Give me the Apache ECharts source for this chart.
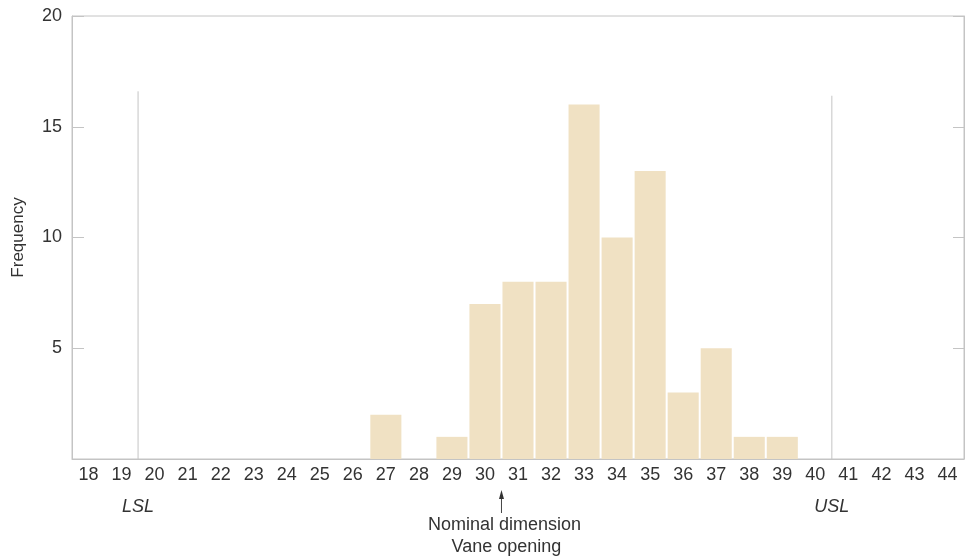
<!DOCTYPE html>
<html><head><meta charset="utf-8">
<script src="https://cdn.jsdelivr.net/npm/echarts@6/dist/echarts.min.js"></script>
<style>html,body{margin:0;padding:0;background:#fff}#c{width:967px;height:559px}</style>
</head><body><div id="c"></div>
<script>
const categories = ['18','19','20','21','22','23','24','25','26','27','28','29','30','31','32','33','34','35','36','37','38','39','40','41','42','43','44'];
const frequency  = [0,0,0,0,0,0,0,0,0,2,0,1,7,8,8,16,10,13,3,5,1,1,0,0,0,0,0];
const yTicks = [0,5,10,15,20];
const lslX = 19.5, lslTop = 16.6;
const uslX = 40.5, uslTop = 16.4;
const nominalX = 30.5;

const FONT = '"Liberation Sans", Arial, sans-serif';
const TXT = '#333';
const LINE = '#c4c4c4';

const chart = echarts.init(document.getElementById('c'), null, {renderer:'canvas'});
const option = {
  animation:false,
  grid:{left:72,right:3,top:16,bottom:100,show:true,borderColor:LINE,borderWidth:1},
  xAxis:[{
    type:'category',data:categories,
    axisLine:{show:true,lineStyle:{color:LINE}},
    axisTick:{show:false},
    axisLabel:{color:TXT,fontFamily:FONT,fontSize:18,margin:7,interval:0}
  },{
    type:'value',min:17.5,max:44.5,show:false
  }],
  yAxis:[{
    type:'value',min:0,max:20,interval:5,
    name:'Frequency',nameLocation:'middle',nameGap:45,
    nameTextStyle:{color:TXT,fontFamily:FONT,fontSize:17},
    axisLine:{show:true,lineStyle:{color:LINE}},
    axisTick:{show:true,inside:true,length:12,lineStyle:{color:LINE}},
    axisLabel:{color:TXT,fontFamily:FONT,fontSize:18,margin:10,formatter:v=>v===0?'':String(v)},
    splitLine:{show:false}
  },{
    type:'value',min:0,max:20,interval:5,position:'right',
    axisLine:{show:true,lineStyle:{color:LINE}},
    axisTick:{show:true,inside:true,length:11,lineStyle:{color:LINE}},
    axisLabel:{show:false},splitLine:{show:false}
  }],
  series:[{
    type:'bar',data:frequency,barCategoryGap:'6%',
    itemStyle:{color:'#F0E1C3'}
  },{
    type:'line',xAxisIndex:1,yAxisIndex:0,symbol:'none',
    data:[[lslX,0],[lslX,lslTop]],lineStyle:{color:LINE,width:1}
  },{
    type:'line',xAxisIndex:1,yAxisIndex:0,symbol:'none',
    data:[[uslX,0],[uslX,uslTop]],lineStyle:{color:LINE,width:1}
  }]
};
chart.setOption(option);

const lslPx = chart.convertToPixel({xAxisIndex:1},lslX);
const uslPx = chart.convertToPixel({xAxisIndex:1},uslX);
const nomPx = chart.convertToPixel({xAxisIndex:1},nominalX);
const yBase = chart.convertToPixel({yAxisIndex:0},0);
const tstyle = (t,x,y,extra)=>({type:'text',x:x,y:y,style:Object.assign({text:t,fill:TXT,font:'18px '+FONT,textAlign:'center',textVerticalAlign:'middle'},extra||{})});
chart.setOption({graphic:[
  tstyle('LSL',lslPx,yBase+48,{font:'italic 18px '+FONT}),
  tstyle('USL',uslPx,yBase+48,{font:'italic 18px '+FONT}),
  {type:'line',shape:{x1:nomPx,y1:yBase+54,x2:nomPx,y2:yBase+36},style:{stroke:'#444',lineWidth:1}},
  {type:'polygon',shape:{points:[[nomPx-2.5,yBase+40],[nomPx+2.5,yBase+40],[nomPx,yBase+31]]},style:{fill:'#333'}},
  tstyle('Nominal dimension',nomPx+3,yBase+66),
  tstyle('Vane opening',nomPx+5,yBase+88)
]});
</script></body></html>
